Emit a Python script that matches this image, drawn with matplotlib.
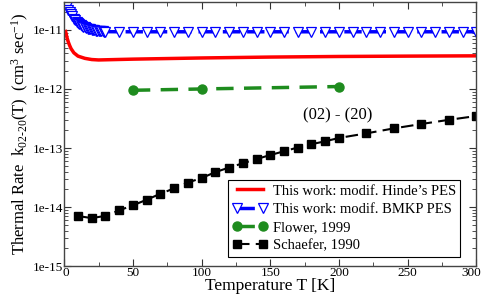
import matplotlib
matplotlib.use("Agg")
import matplotlib.pyplot as plt
import matplotlib.transforms as mtransforms
from matplotlib.ticker import LogLocator, MultipleLocator, NullFormatter, FixedLocator, FixedFormatter

plt.rcParams['font.family'] = ['Liberation Serif', 'DejaVu Serif']
plt.rcParams['mathtext.fontset'] = 'custom'
plt.rcParams['mathtext.rm'] = 'Liberation Serif'
plt.rcParams['mathtext.it'] = 'Liberation Serif:italic'

# --- data ---
hinde_T = [1, 2, 3, 4, 5, 7, 10, 15, 20, 25, 30, 50, 100, 150, 200, 250, 300]
hinde_k = [9.4e-12, 7.4e-12, 6.2e-12, 5.4e-12, 4.8e-12, 4.1e-12, 3.6e-12, 3.3e-12,
           3.15e-12, 3.1e-12, 3.12e-12, 3.2e-12, 3.35e-12, 3.47e-12, 3.55e-12, 3.6e-12, 3.64e-12]

bmkp_T = list(range(1, 31)) + list(range(40, 301, 10))
bmkp_k = [2.8e-11, 2.5e-11, 2.2e-11, 2.0e-11, 1.85e-11, 1.7e-11, 1.55e-11, 1.45e-11, 1.36e-11, 1.3e-11,
          1.25e-11, 1.2e-11, 1.15e-11, 1.12e-11, 1.1e-11, 1.07e-11, 1.05e-11, 1.03e-11, 1.02e-11, 1.0e-11,
          9.9e-12, 9.8e-12, 9.7e-12, 9.65e-12, 9.6e-12, 9.55e-12, 9.5e-12, 9.45e-12, 9.4e-12, 9.35e-12] + \
         [9.3e-12] * 27

flower_T = [50, 100, 200]
flower_k = [9.5e-13, 1.0e-12, 1.1e-12]

schaefer_T = [10, 20, 30, 40, 50, 60, 70, 80, 90, 100, 110, 120, 130, 140, 150, 160, 170, 180, 190, 200,
              220, 240, 260, 280, 300]
schaefer_k = [7.05e-15, 6.5e-15, 7.1e-15, 8.8e-15, 1.07e-14, 1.33e-14, 1.68e-14, 2.07e-14, 2.6e-14, 3.1e-14,
              3.9e-14, 4.67e-14, 5.5e-14, 6.5e-14, 7.6e-14, 8.8e-14, 1.02e-13, 1.16e-13, 1.3e-13, 1.48e-13,
              1.77e-13, 2.15e-13, 2.55e-13, 3.0e-13, 3.48e-13]

labels = ["This work: modif. Hinde\u2019s PES", "This work: modif. BMKP PES", "Flower, 1999", "Schaefer, 1990"]
x_ticks = [0, 50, 100, 150, 200, 250, 300]
y_ticks = [1e-15, 1e-14, 1e-13, 1e-12, 1e-11]
y_ticklabels = ["1e-15", "1e-14", "1e-13", "1e-12", "1e-11"]

fig = plt.figure(figsize=(4.83, 2.99), dpi=100)
ax = fig.add_axes([0.133, 0.110, 0.853, 0.883])

ax.plot(hinde_T, hinde_k, color='#ff0000', lw=2.5, label=labels[0])
ax.plot(bmkp_T, bmkp_k, color='#0000ff', lw=2.5, ls=(0, (5, 2)), marker='v', ms=6.5,
        mfc='white', mec='#0000ff', mew=0.9, label=labels[1])
ax.plot(flower_T, flower_k, color='#1e8c1e', lw=2.5, ls=(0, (5, 3)), marker='o', ms=6.5,
        label=labels[2])
ax.plot(schaefer_T, schaefer_k, color='black', lw=1.5, ls=(0, (6, 3)), marker='s', ms=5.5,
        label=labels[3])

ax.set_yscale('log')
ax.set_xlim(0, 300)
ax.set_ylim(1e-15, 2.96e-11)

ax.xaxis.set_major_locator(FixedLocator(x_ticks))
ax.xaxis.set_minor_locator(MultipleLocator(25))
ax.yaxis.set_major_locator(FixedLocator(y_ticks))
ax.yaxis.set_major_formatter(FixedFormatter(y_ticklabels))
ax.yaxis.set_minor_locator(LogLocator(base=10, subs=range(2, 10)))
ax.yaxis.set_minor_formatter(NullFormatter())

ax.tick_params(which='both', direction='in', top=True, right=True, labelsize=9.5, colors='#333333',
               labelcolor='black')
ax.tick_params(which='major', length=5, width=0.8)
ax.tick_params(which='minor', length=3, width=0.6)
ax.tick_params(axis='x', pad=1)
ax.tick_params(axis='y', pad=1)
for s in ax.spines.values():
    s.set_color('#444444')
    s.set_linewidth(1.0)

# shift the last x tick label slightly left so it stays inside the figure
last = ax.get_xticklabels()[-1]
last.set_transform(last.get_transform() + mtransforms.ScaledTranslation(-5 / 100, 0, fig.dpi_scale_trans))
first = ax.get_xticklabels()[0]
first.set_transform(first.get_transform() + mtransforms.ScaledTranslation(2 / 100, 0, fig.dpi_scale_trans))

ax.set_xlabel("Temperature T [K]", fontsize=12.5, labelpad=-1)
ax.set_ylabel("Thermal Rate  k$_{02\u201020}$(T)  (cm$^3$ sec$^{-1}$)", fontsize=12, labelpad=1)

ax.text(199, 3.6e-13, "(02) - (20)", fontsize=12, ha='center', va='center')

leg = ax.legend(loc='lower right', bbox_to_anchor=(0.961, 0.035), borderaxespad=0,
                fontsize=10.5, frameon=True, fancybox=False, framealpha=1, edgecolor='black',
                handlelength=2.4, numpoints=2, labelspacing=0.35, borderpad=0.3, handletextpad=0.35)
leg.get_frame().set_linewidth(0.8)

fig.savefig("out.png", dpi=100)
